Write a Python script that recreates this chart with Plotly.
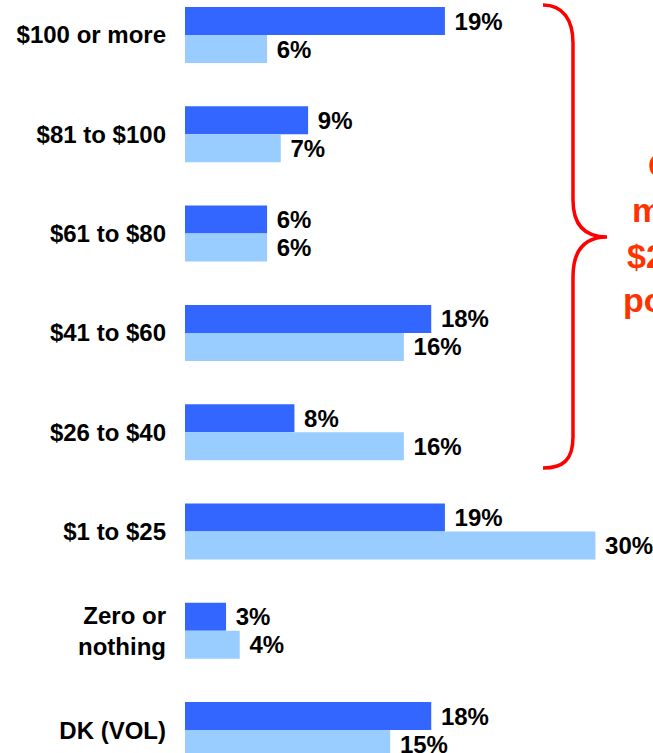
import plotly.graph_objects as go

categories = ["$100 or more", "$81 to $100", "$61 to $80", "$41 to $60",
              "$26 to $40", "$1 to $25", "Zero or<br>nothing", "DK (VOL)"]
series_a = [19, 9, 6, 18, 8, 19, 3, 18]
series_b = [6, 7, 6, 16, 16, 30, 4, 15]
callout_lines = ["Over half", "more than", "$25 per", "position"]

W, H = 653, 753
L = 185
PX_PER = 13.68
ROW = 99.3
ROW0 = 35

FONT = "Liberation Sans, Arial, sans-serif"
FS = 24

fig = go.Figure()
for vals, name, col in [(series_a, "Series A", "#3366FF"), (series_b, "Series B", "#99CCFF")]:
    fig.add_trace(go.Bar(y=categories, x=vals, orientation="h", name=name,
                         marker=dict(color=col, line=dict(width=0)),
                         text=vals, texttemplate=" %{x}%", textposition="outside",
                         textfont=dict(family=FONT, size=FS, color="black", weight="bold"),
                         cliponaxis=False, constraintext="none"))

def px(x):
    return (x - L) / (W - L)

def py(y):
    return 1 - y / H

pts = [(543, 5), (563, 5), (573, 20), (573, 43), (573, 200), (573, 226), (586, 237), (607, 237),
       (586, 237), (573, 249), (573, 277), (573, 437), (573, 460), (563, 468), (543, 468)]
P = [f"{px(a):.5f},{py(b):.5f}" for a, b in pts]
path = (f"M {P[0]} C {P[1]} {P[2]} {P[3]} L {P[4]} C {P[5]} {P[6]} {P[7]} "
        f"C {P[8]} {P[9]} {P[10]} L {P[11]} C {P[12]} {P[13]} {P[14]}")
fig.add_shape(type="path", path=path, xref="paper", yref="paper",
              line=dict(color="#FF0000", width=3.5))

line_pos = [(646, 165), (630, 210), (625, 256), (621, 300)]
for txt, (xx, yy) in zip(callout_lines, line_pos):
    fig.add_annotation(text=txt, x=px(xx), y=py(yy), xref="paper", yref="paper",
                       xanchor="left", yanchor="middle", showarrow=False,
                       font=dict(family=FONT, size=34, color="#FF3300", weight="bold"))

fig.update_layout(
    width=W, height=H,
    margin=dict(l=L, r=0, t=0, b=0),
    plot_bgcolor="white", paper_bgcolor="white",
    barmode="group", bargap=1 - 56 / ROW, bargroupgap=0,
    showlegend=False, hovermode=False,
    font=dict(family=FONT, size=FS, color="black"),
)
fig.update_xaxes(range=[0, (W - L) / PX_PER], visible=False, showgrid=False, zeroline=False)
fig.update_yaxes(range=[(H - ROW0) / ROW, -ROW0 / ROW], showgrid=False, zeroline=False,
                 showline=False, ticks="", ticklabelstandoff=18,
                 tickfont=dict(family=FONT, size=FS, color="black", weight="bold"))

fig.write_html("out.html", config={"displayModeBar": False},
               post_script="document.body.style.margin='0px';")
